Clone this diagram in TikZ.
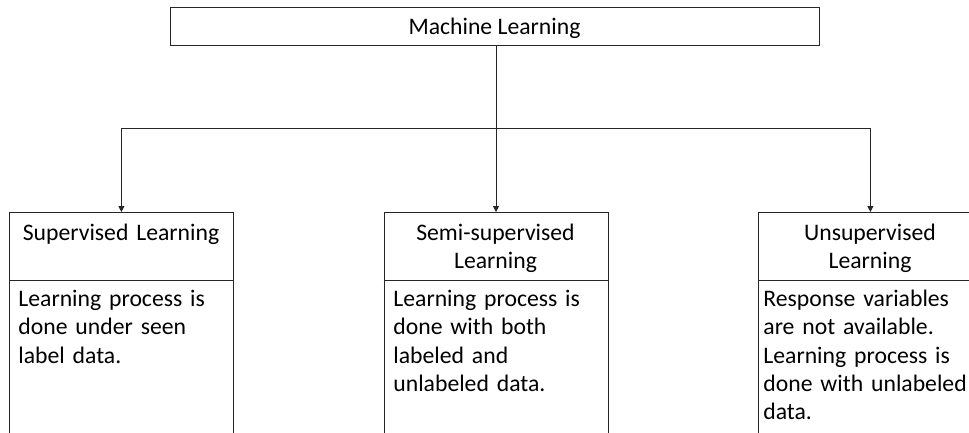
\documentclass[tikz,border=0pt]{standalone}
\usepackage{fontspec}
\setmainfont{Carlito}
\usetikzlibrary{arrows.meta}
\begin{document}
\begin{tikzpicture}[x=1pt,y=-1pt,line width=0.8pt,
  ln/.style={draw=black!85},
  txt/.style={font=\fontsize{23.7}{28.3}\selectfont},
  topbox/.style={ln, minimum width=649pt, minimum height=38pt, inner sep=0pt},
  catbox/.style={ln, minimum width=224pt, minimum height=260pt, inner sep=0pt, anchor=north west},
  hdr/.style={txt, align=center, text width=222pt, inner sep=0pt, anchor=base},
  body/.style={txt, align=left, text width=230pt, inner sep=0pt, anchor=base west},
  arr/.style={ln, -{Triangle[length=6pt,width=6pt]}}]
\useasboundingbox (0,0) rectangle (969,432);
\clip (0,0) rectangle (969,432);
\fill[white] (0,0) rectangle (969,432);

\node[topbox] (ml) at (494.5,26) {};
\node[txt, inner sep=0pt, anchor=base] (mlt) at (494.5,34) {Machine Learning};

\node[catbox] (sup) at (9,212) {};
\node[catbox] (semi) at (383.5,212) {};
\node[catbox] (uns) at (758,212) {};

\draw[ln] ([yshift=-68pt]sup.north west) -- ([yshift=-68pt]sup.north east);
\draw[ln] ([yshift=-68pt]semi.north west) -- ([yshift=-68pt]semi.north east);
\draw[ln] ([yshift=-68pt]uns.north west) -- ([yshift=-68pt]uns.north east);

\node[hdr] (suph) at (121,240) {Supervised Learning};
\node[hdr] (semih) at (495.5,240) {Semi-supervised\\Learning};
\node[hdr] (unsh) at (870,240) {Unsupervised\\Learning};

\node[body] (supb) at (18,306.5) {Learning process is\\done under seen\\label data.};
\node[body] (semib) at (393,306.5) {Learning process is\\done with both\\labeled and\\unlabeled data.};
\node[body] (unsb) at (763,306.5) {Response variables\\are not available.\\Learning process is\\done with unlabeled\\data.};

\coordinate (j) at (496,128);
\draw[ln] (ml.south -| j) -- (j);
\draw[arr] (j) -| (sup.north);
\draw[arr] (j) -- (semi.north -| j);
\draw[arr] (j) -| (uns.north);
\end{tikzpicture}
\end{document}
